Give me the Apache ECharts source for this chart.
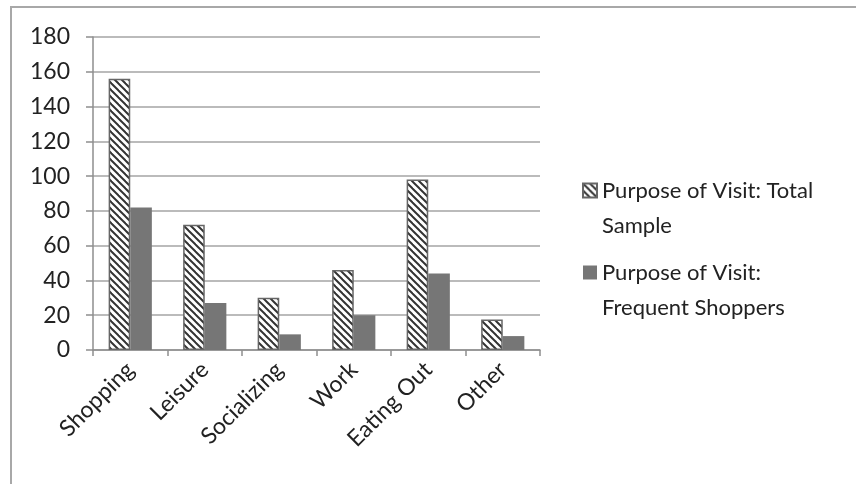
<!DOCTYPE html>
<html>
<head>
<meta charset="utf-8">
<script src="https://cdn.jsdelivr.net/npm/echarts@6/dist/echarts.min.js"></script>
<style>html,body{margin:0;padding:0;background:#fff}#c{width:856px;height:484px}</style>
</head>
<body>
<div id="c"></div>
<script>
var categories = ['Shopping', 'Leisure', 'Socializing', 'Work', 'Eating Out', 'Other'];
var totalSample = [156, 72, 30, 46, 98, 17.5];
var frequentShoppers = [82, 27, 9, 20, 44, 8];
var seriesNames = ['Purpose of Visit: Total\nSample', 'Purpose of Visit:\nFrequent Shoppers'];
var yTicks = { min: 0, max: 180, interval: 20 };

function makeHatch() {
  var s = 7;
  var cv = document.createElement('canvas');
  cv.width = s; cv.height = s;
  var ctx = cv.getContext('2d');
  ctx.fillStyle = '#ffffff';
  ctx.fillRect(0, 0, s, s);
  ctx.strokeStyle = '#333333';
  ctx.lineWidth = 2;
  for (var k = -1; k <= 1; k++) {
    ctx.beginPath();
    ctx.moveTo(k * s - 1, -1);
    ctx.lineTo(k * s + s + 1, s + 1);
    ctx.stroke();
  }
  return cv;
}

var FONT = 'Lato';
var chart = echarts.init(document.getElementById('c'), null, { renderer: 'canvas' });
chart.setOption({
  animation: false,
  backgroundColor: '#ffffff',
  graphic: [{
    type: 'rect', silent: true, z: -10,
    shape: { x: 11, y: 7, width: 900, height: 520 },
    style: { fill: 'none', stroke: '#a8a8a8', lineWidth: 2 }
  }],
  grid: { left: 93, right: 316, top: 37, bottom: 134 },
  legend: {
    orient: 'vertical',
    left: 577, top: 133,
    itemWidth: 14, itemHeight: 14,
    itemGap: -23,
    icon: 'rect',
    formatter: function (n) { return '\n' + n; },
    textStyle: { fontFamily: FONT, fontSize: 22, color: '#222', lineHeight: 35 },
    data: seriesNames
  },
  xAxis: {
    type: 'category',
    data: categories,
    axisLine: { show: true, lineStyle: { color: '#8e8e8e', width: 1.5 } },
    axisTick: { show: true, length: 6, lineStyle: { color: '#8e8e8e', width: 1.5 } },
    axisLabel: { rotate: 45, fontFamily: FONT, fontSize: 23, color: '#222', margin: 16, interval: 0 }
  },
  yAxis: {
    type: 'value',
    min: yTicks.min, max: yTicks.max, interval: yTicks.interval,
    axisLine: { show: true, lineStyle: { color: '#8e8e8e', width: 1.5 } },
    axisTick: { show: true, length: 7, lineStyle: { color: '#8e8e8e', width: 1.5 } },
    axisLabel: { fontFamily: FONT, fontSize: 23, color: '#222', margin: 23 },
    splitLine: { show: true, lineStyle: { color: '#a4a4a4', width: 1.5 } }
  },
  series: [{
    name: seriesNames[0],
    type: 'bar',
    data: totalSample,
    barGap: '0%',
    barCategoryGap: '42%',
    itemStyle: { color: { image: makeHatch(), repeat: 'repeat' }, borderColor: '#666666', borderWidth: 1.5 }
  }, {
    name: seriesNames[1],
    type: 'bar',
    data: frequentShoppers,
    barGap: '0%',
    barCategoryGap: '42%',
    itemStyle: { color: '#767676' }
  }]
});
</script>
</body>
</html>
